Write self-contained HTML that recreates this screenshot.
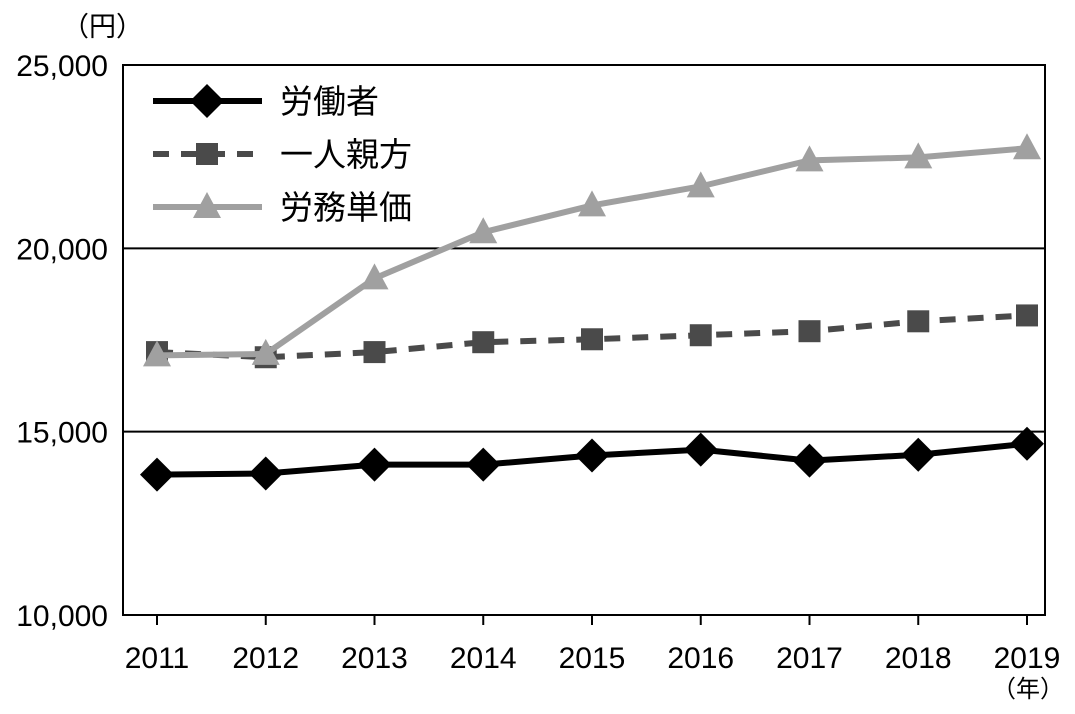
<!DOCTYPE html>
<html><head><meta charset="utf-8"><style>
body{margin:0;background:#fff;}
svg text{font-family:"Liberation Sans","Noto Sans CJK JP",sans-serif;fill:#000;}
</style></head><body>
<svg width="1075" height="709" viewBox="0 0 1075 709">
<g id="grid"></g>
<g id="axes"></g>
<g id="series"></g>
<g id="legend"></g>
<text x="62" y="36" font-size="27">（円）</text>
<text x="992" y="697" font-size="24">（年）</text>
</svg>
<script>
const years=["2011","2012","2013","2014","2015","2016","2017","2018","2019"];
const workers=[13830,13860,14100,14100,14350,14510,14210,14370,14670];
const oyakata=[17170,17030,17170,17440,17520,17630,17740,18010,18170];
const unitPrice=[17080,17120,19180,20440,21170,21690,22400,22480,22730];
const yTicks=[10000,15000,20000,25000];
const yTickLabels=["10,000","15,000","20,000","25,000"];
const NS="http://www.w3.org/2000/svg";
const L=123,R=1045,T=65,B=615,yMin=10000,yMax=25000,x0=157,x1=1027;
const xs=i=>x0+(x1-x0)*i/(years.length-1);
const ys=v=>B-(v-yMin)/(yMax-yMin)*(B-T);
function mk(tag,attrs,parent){const e=document.createElementNS(NS,tag);for(const k in attrs)e.setAttribute(k,attrs[k]);parent.appendChild(e);return e;}
const grid=document.getElementById('grid'),axes=document.getElementById('axes'),ser=document.getElementById('series'),leg=document.getElementById('legend');
yTicks.forEach((v,i)=>{
 const ln=mk('line',{x1:L,x2:R,y1:ys(v),y2:ys(v),stroke:'#000','stroke-width':2},grid);
 
 
 const t=mk('text',{x:108,y:ys(v)+11,'font-size':30,'text-anchor':'end'},axes);
 t.textContent=yTickLabels[i];
 
 
});
const fr=mk('rect',{x:L,y:T,width:R-L,height:B-T,fill:'none',stroke:'#000','stroke-width':2},axes);


years.forEach((y,i)=>{
 const tk=mk('line',{x1:xs(i),x2:xs(i),y1:B,y2:B+10,stroke:'#000','stroke-width':2},axes);
 
 
 const t=mk('text',{x:xs(i),y:668,'font-size':30,'text-anchor':'middle'},axes);
 t.textContent=y;
 
 
});
function marker(type,cx,cy,col,g){
 if(type==='d') return mk('polygon',{points:`${cx},${cy-17} ${cx+17},${cy} ${cx},${cy+17} ${cx-17},${cy}`,fill:col},g);
 if(type==='s') return mk('rect',{x:cx-11,y:cy-11,width:22,height:22,fill:col},g);
 return mk('polygon',{points:`${cx},${cy-15} ${cx+14},${cy+11} ${cx-14},${cy+11}`,fill:col},g);
}
function series(vals,col,dash,type,name){
 const g=mk('g',{},ser);
 
 
 const p=mk('polyline',{points:vals.map((v,i)=>xs(i)+','+ys(v)).join(' '),fill:'none',stroke:col,'stroke-width':6,'stroke-dasharray':dash},g);
 
 
 vals.forEach((v,i)=>{const m=marker(type,xs(i),ys(v),col,g);
  
  });
}
series(oyakata,'#4a4a4a','16,12','s','oyakata');
series(unitPrice,'#a0a0a0','none','t','unit-price');
series(workers,'#000','none','d','workers');
const legItems=[["労働者",'#000','none','d'],["一人親方",'#4a4a4a','16,12','s'],["労務単価",'#a0a0a0','none','t']];
legItems.forEach((it,i)=>{
 const y=101+i*53;
 const g=mk('g',{},leg);
 
 
 mk('line',{x1:153,x2:262,y1:y,y2:y,stroke:it[1],'stroke-width':6,'stroke-dasharray':it[2]},g);
 marker(it[3],207,y,it[1],g);
 const t=mk('text',{x:280,y:y+12,'font-size':33},g);
 t.textContent=it[0];
});
</script>
</body></html>
